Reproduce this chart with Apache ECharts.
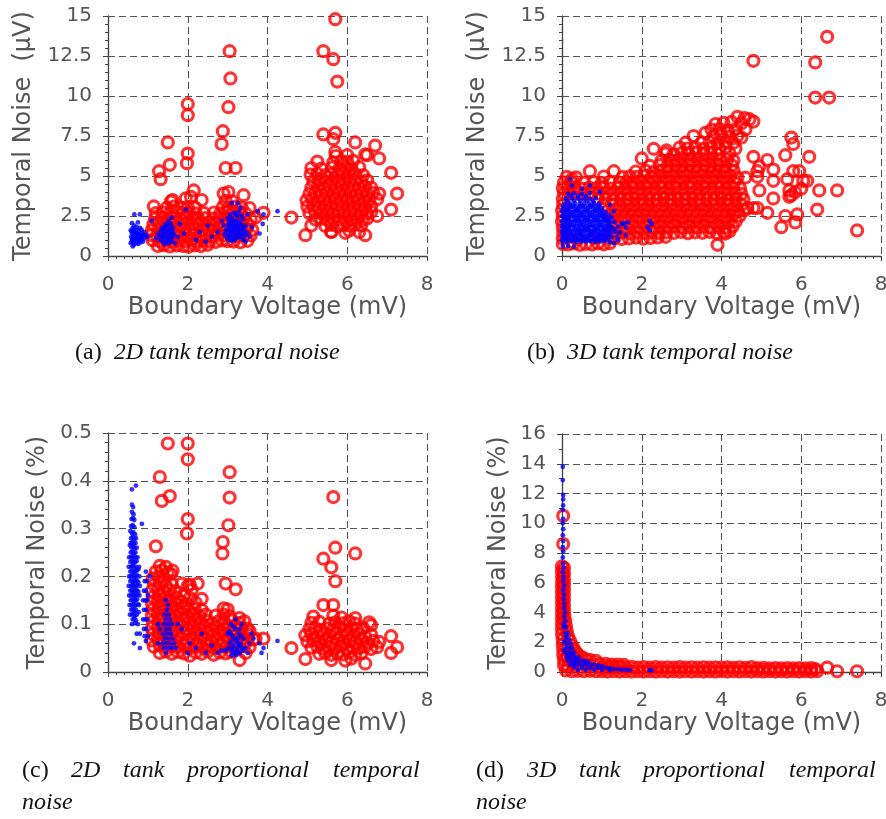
<!DOCTYPE html>
<html>
<head>
<meta charset="utf-8">
<script src="https://cdn.jsdelivr.net/npm/echarts@6/dist/echarts.min.js"></script>
<style>
html,body{margin:0;padding:0;background:#fff;}
#chart{width:886px;height:819px;}
</style>
</head>
<body>
<div id="chart"></div>
<script>
// ---------- axis definitions (min, max, interval) ----------
var xRange = [0, 8, 2];
var yRangeUV = [0, 15, 2.5];
var yRangeA = [0, 0.5, 0.1];
var yRangeD = [0, 16, 2];

var xName = 'Boundary Voltage (mV)';
var yNameUV = 'Temporal Noise  (\u03bcV)';
var yNamePct = 'Temporal Noise (%)';

// ---------- (a) 2D tank temporal noise ----------
var aRed = [
[5.7,14.8],[5.4,12.8],[5.65,12.3],[5.75,10.9],[3.05,12.8],[3.07,11.1],[3.02,9.3],[2.0,9.5],[2.0,8.8],[2.0,6.4],[1.98,5.8],
[2.88,7.8],[2.85,7.0],[2.95,5.5],[3.2,5.5],[1.5,7.1],[1.28,5.3],[1.32,4.8],[1.55,5.7],[5.4,7.6],[5.7,7.7],[5.65,7.3],
[6.2,7.1],[6.7,6.9],[6.8,6.1],[6.5,6.3],[5.7,6.5],[7.1,5.2],[7.25,3.9],[7.1,2.9],[6.75,2.5],[6.45,1.3],[4.95,1.3],
[4.6,2.4],[5.1,1.9],[5.6,1.5],[3.9,2.7],[3.7,2.4],[2.15,4.1],[2.35,3.5],
[1.25,0.62],[1.4,0.68],[1.55,0.6],[1.72,0.66],[1.88,0.63],[2.02,0.58],[2.18,0.67],[2.33,0.62],[2.5,0.7],
[1.12,0.98],[1.3,0.92],[1.45,0.97],[1.6,0.9],[1.76,0.96],[1.92,0.93],[2.08,0.99],[2.22,0.91],[2.38,0.95],[2.55,0.92],[2.7,0.88],[2.86,0.97],[3.0,0.93],[3.15,0.9],[3.32,0.86],[3.5,0.95],
[1.08,1.3],[1.22,1.26],[1.38,1.33],[1.52,1.28],[1.68,1.32],[1.83,1.25],[1.98,1.3],[2.14,1.35],[2.3,1.27],[2.46,1.31],[2.6,1.25],[2.76,1.33],[2.92,1.28],[3.08,1.3],[3.25,1.24],[3.42,1.32],[3.58,1.28],
[1.1,1.62],[1.26,1.68],[1.42,1.63],[1.57,1.66],[1.73,1.6],[1.9,1.67],[2.05,1.64],[2.2,1.69],[2.36,1.61],[2.52,1.66],[2.68,1.63],[2.83,1.68],[2.98,1.62],[3.14,1.66],[3.3,1.6],[3.47,1.67],[3.62,1.63],
[1.14,1.98],[1.3,2.03],[1.46,1.97],[1.62,2.02],[1.78,1.96],[1.94,2.04],[2.1,1.99],[2.26,2.02],[2.42,1.95],[2.58,2.0],[2.74,2.04],[2.9,1.97],[3.05,2.02],[3.2,1.98],[3.36,2.03],[3.52,1.96],
[1.18,2.33],[1.35,2.38],[1.5,2.31],[1.66,2.36],[1.82,2.32],[1.97,2.39],[2.12,2.34],[2.28,2.3],[2.45,2.37],[2.62,2.33],[2.78,2.38],[2.93,2.31],[3.1,2.36],[3.26,2.34],[3.42,2.39],[3.58,2.3],
[1.2,2.68],[1.38,2.72],[1.55,2.66],[1.72,2.74],[1.88,2.69],[2.03,2.73],[2.2,2.67],[2.4,2.7],[2.66,2.72],[2.82,2.67],[2.98,2.74],[3.14,2.69],[3.3,2.73],[3.45,2.66],
[1.15,3.1],[1.48,3.03],[1.65,3.08],[1.84,3.02],[2.0,3.07],[2.18,3.04],[2.88,3.06],[3.02,3.02],[3.2,3.08],[3.35,3.03],[3.55,3.0],
[1.58,3.42],[1.95,3.6],[2.08,3.7],[2.9,3.9],[3.02,4.0],[3.4,3.8],[2.95,3.45],[3.12,3.42],[1.62,3.5],
[5.6,1.52],[5.95,1.45],[6.05,1.6],[6.3,1.5],
[5.45,1.88],[5.6,1.95],[5.75,1.86],[5.9,1.93],[6.05,1.89],[6.2,1.96],[6.35,1.9],
[5.2,2.28],[5.35,2.33],[5.5,2.26],[5.65,2.31],[5.8,2.27],[5.95,2.34],[6.1,2.29],[6.25,2.32],[6.4,2.26],[6.5,2.35],
[5.05,2.68],[5.2,2.73],[5.35,2.66],[5.5,2.71],[5.64,2.67],[5.78,2.74],[5.92,2.69],[6.06,2.72],[6.2,2.66],[6.35,2.73],[6.5,2.68],[6.6,2.75],
[5.0,3.08],[5.15,3.13],[5.3,3.06],[5.45,3.11],[5.6,3.07],[5.74,3.14],[5.88,3.09],[6.02,3.12],[6.16,3.06],[6.3,3.13],[6.45,3.08],[6.6,3.11],
[4.98,3.48],[5.12,3.53],[5.27,3.46],[5.42,3.51],[5.56,3.47],[5.7,3.54],[5.85,3.49],[6.0,3.52],[6.14,3.46],[6.28,3.53],[6.42,3.48],[6.56,3.51],[6.75,3.55],
[5.05,3.88],[5.2,3.93],[5.35,3.86],[5.5,3.91],[5.65,3.87],[5.8,3.94],[5.94,3.89],[6.08,3.92],[6.22,3.86],[6.36,3.93],[6.5,3.88],[6.65,3.95],[6.8,3.9],
[5.1,4.28],[5.26,4.33],[5.42,4.26],[5.57,4.31],[5.72,4.27],[5.87,4.34],[6.02,4.29],[6.16,4.32],[6.3,4.26],[6.44,4.33],[6.6,4.28],
[5.15,4.68],[5.3,4.73],[5.46,4.66],[5.62,4.71],[5.78,4.67],[5.92,4.74],[6.06,4.69],[6.2,4.72],[6.35,4.66],[6.5,4.73],
[5.08,5.08],[5.25,5.13],[5.45,5.06],[5.6,5.11],[5.76,5.07],[5.9,5.14],[6.04,5.09],[6.2,5.12],[6.4,5.06],
[5.1,5.5],[5.35,5.46],[5.62,5.53],[5.8,5.47],[5.96,5.52],[6.1,5.48],[6.3,5.55],
[5.25,5.9],[5.65,5.86],[5.85,5.93],[6.0,5.88],[6.15,5.95],
[5.72,6.25],[6.0,6.3],[6.45,6.35]
];
var aBlue = [
[0.57,0.8],[0.6,1.0],[0.58,1.2],[0.6,1.4],[0.57,1.6],[0.62,1.75],[0.65,0.7],[0.65,0.9],[0.66,1.1],[0.64,1.3],[0.67,1.5],[0.65,1.7],[0.66,1.9],
[0.7,0.8],[0.72,1.0],[0.71,1.2],[0.73,1.4],[0.7,1.6],[0.72,1.8],[0.76,0.75],[0.78,0.95],[0.77,1.15],[0.79,1.35],[0.77,1.55],[0.8,1.75],
[0.82,0.85],[0.84,1.05],[0.83,1.25],[0.85,1.45],[0.84,1.65],[0.88,0.9],[0.9,1.1],[0.89,1.3],[0.9,1.5],[0.6,2.05],[0.66,2.6],[0.8,2.6],
[0.75,2.1],[0.95,1.3],[1.0,1.2],[0.62,0.6],[0.6,0.9],[0.62,1.1],[0.6,1.55],[0.68,1.25],[0.74,1.05],[0.75,1.3],[0.8,1.1],[0.86,1.2],[0.7,1.4],
[1.32,1.0],[1.35,1.3],[1.33,1.6],[1.38,0.85],[1.4,1.15],[1.42,1.45],[1.4,1.75],[1.45,2.0],[1.45,0.95],[1.47,1.25],[1.48,1.55],[1.5,1.85],
[1.52,2.2],[1.53,1.05],[1.55,1.35],[1.56,1.65],[1.58,1.95],[1.6,0.9],[1.62,1.2],[1.63,1.5],[1.6,2.4],[1.66,1.3],[1.68,0.8],[1.25,1.4],
[1.2,1.1],[1.1,2.2],[1.8,2.0],[1.9,1.4],[1.75,1.2],[1.95,2.9],[2.3,1.5],[2.5,1.9],[2.2,1.0],[1.5,1.1],[1.44,1.6],[1.57,1.5],
[1.36,1.15],[1.38,1.45],[1.43,0.75],[1.5,1.4],[1.52,0.8],[1.58,1.1],[1.62,1.75],[1.44,1.85],[1.36,1.75],[1.56,2.05],[1.3,1.2],
[3.0,1.3],[3.02,1.7],[3.04,2.1],[3.05,1.0],[3.08,1.5],[3.1,1.9],[3.1,2.4],[3.12,1.2],[3.14,1.65],[3.15,2.2],[3.17,2.7],[3.18,1.0],
[3.2,1.4],[3.22,1.85],[3.24,2.5],[3.26,1.15],[3.28,1.6],[3.3,2.0],[3.32,3.0],[3.33,1.3],[3.35,1.75],[3.38,2.3],[3.4,1.0],[3.42,1.5],
[3.1,3.3],[3.25,3.3],[3.45,0.9],[2.9,1.9],[2.85,2.2],[2.75,1.5],[3.5,2.6],[3.6,1.8],[3.55,1.2],[3.75,2.8],[3.9,2.6],[3.88,2.0],
[3.8,1.4],[4.25,2.8],[2.6,1.2],[2.45,0.9],[3.15,1.8],[3.25,1.9],[3.2,2.2],[3.1,1.6],[3.3,1.45],[3.05,1.75],
[2.98,1.1],[3.0,1.55],[3.02,1.95],[3.06,1.25],[3.08,2.25],[3.12,1.45],[3.16,1.05],[3.18,1.6],[3.2,2.0],[3.24,1.35],[3.26,1.75],
[3.28,2.2],[3.3,1.2],[3.32,1.55],[3.36,1.95],[3.38,1.1],[3.4,1.7],[3.44,1.3],[3.2,2.6],[3.28,2.75],[3.12,2.05],[3.0,2.35],[2.95,1.6],
[3.45,1.9],[3.5,1.45],[3.35,2.5],[3.22,1.2],[3.1,0.95],[2.92,1.35],[3.06,2.6],[3.36,1.4]
];

// ---------- (b) 3D tank temporal noise ----------
var bRed = [
[6.65,13.7],[4.8,12.2],[6.35,12.1],[6.35,9.9],[6.7,9.9],
[5.75,7.4],[5.8,7.0],[6.2,6.2],[5.6,6.3],[4.8,6.2],[4.95,5.6],[4.9,5.3],[5.15,6.0],[5.3,5.4],[5.3,4.7],[5.65,4.8],[5.8,5.3],
[5.95,5.3],[6.05,4.7],[6.15,4.7],[5.7,4.1],[5.85,4.0],[6.0,4.2],[6.45,4.1],[6.9,4.1],[4.95,4.1],[5.3,3.6],[5.7,3.7],[5.75,3.8],
[5.15,2.7],[4.9,3.0],[5.6,2.5],[5.85,2.1],[5.9,2.6],[6.4,2.9],[5.5,1.8],[7.4,1.6],[3.9,0.7],[4.1,1.4],[4.65,3.0],[4.8,3.0],[4.6,4.9],
[0.02,0.75],[0.15,0.72],[0.3,0.78],[0.45,0.7],[0.6,0.76],[0.75,0.72],[0.9,0.79],[1.05,0.73],[1.2,0.8],
[0.02,1.1],[0.4,1.05],[0.8,1.12],[1.15,1.08],[1.32,1.13],[1.5,1.06],[1.68,1.1],[1.86,1.15],[2.04,1.08],[2.22,1.12],[2.4,1.16],[2.6,1.2],
[0.03,1.45],[0.6,1.42],[1.2,1.47],[1.38,1.43],[1.55,1.48],[1.72,1.41],[1.9,1.46],[2.08,1.43],[2.26,1.49],[2.44,1.42],[2.62,1.47],[2.8,1.44],[2.98,1.5],[3.16,1.43],[3.34,1.48],[3.52,1.45],[3.7,1.5],[3.88,1.43],[4.06,1.48],[4.2,1.55],
[0.02,1.8],[1.25,1.78],[1.42,1.83],[1.6,1.76],[1.78,1.82],[1.95,1.79],[2.13,1.84],[2.3,1.77],[2.48,1.81],[2.66,1.78],[2.84,1.83],[3.02,1.76],[3.2,1.82],[3.38,1.79],[3.56,1.84],[3.74,1.77],[3.92,1.81],[4.1,1.78],[4.28,1.85],
[0.0,2.15],[1.3,2.13],[1.48,2.18],[1.66,2.11],[1.84,2.17],[2.02,2.14],[2.2,2.19],[2.38,2.12],[2.56,2.16],[2.74,2.13],[2.92,2.18],[3.1,2.11],[3.28,2.17],[3.46,2.14],[3.64,2.19],[3.82,2.12],[4.0,2.16],[4.18,2.13],[4.36,2.18],
[0.02,2.5],[1.22,2.48],[1.4,2.53],[1.58,2.46],[1.76,2.52],[1.94,2.49],[2.12,2.54],[2.3,2.47],[2.48,2.51],[2.66,2.48],[2.84,2.53],[3.02,2.46],[3.2,2.52],[3.38,2.49],[3.56,2.54],[3.74,2.47],[3.92,2.51],[4.1,2.48],[4.28,2.53],[4.45,2.5],
[0.0,2.85],[1.15,2.83],[1.34,2.88],[1.52,2.81],[1.7,2.87],[1.88,2.84],[2.06,2.89],[2.24,2.82],[2.42,2.86],[2.6,2.83],[2.78,2.88],[2.96,2.81],[3.14,2.87],[3.32,2.84],[3.5,2.89],[3.68,2.82],[3.86,2.86],[4.04,2.83],[4.22,2.88],[4.4,2.81],[4.58,2.86],
[0.03,3.2],[1.05,3.18],[1.25,3.23],[1.44,3.16],[1.62,3.22],[1.8,3.19],[1.98,3.24],[2.16,3.17],[2.34,3.21],[2.52,3.18],[2.7,3.23],[2.88,3.16],[3.06,3.22],[3.24,3.19],[3.42,3.24],[3.6,3.17],[3.78,3.21],[3.96,3.18],[4.14,3.23],[4.32,3.16],[4.5,3.21],
[0.02,3.55],[0.9,3.53],[1.1,3.58],[1.3,3.51],[1.48,3.57],[1.66,3.54],[1.84,3.59],[2.02,3.52],[2.2,3.56],[2.38,3.53],[2.56,3.58],[2.74,3.51],[2.92,3.57],[3.1,3.54],[3.28,3.59],[3.46,3.52],[3.64,3.56],[3.82,3.53],[4.0,3.58],[4.18,3.51],[4.36,3.57],[4.55,3.54],
[0.05,3.9],[0.2,3.88],[0.38,3.93],[0.56,3.86],[0.74,3.92],[0.92,3.89],[1.1,3.94],[1.28,3.87],[1.46,3.91],[1.64,3.88],[1.82,3.93],[2.0,3.86],[2.18,3.92],[2.36,3.89],[2.54,3.94],[2.72,3.87],[2.9,3.91],[3.08,3.88],[3.26,3.93],[3.44,3.86],[3.62,3.92],[3.8,3.89],[3.98,3.94],[4.16,3.87],[4.34,3.91],[4.5,3.88],
[0.02,4.25],[0.15,4.23],[0.32,4.28],[0.5,4.21],[0.68,4.27],[0.86,4.24],[1.04,4.29],[1.22,4.22],[1.4,4.26],[1.58,4.23],[1.76,4.28],[1.94,4.21],[2.12,4.27],[2.3,4.24],[2.48,4.29],[2.66,4.22],[2.84,4.26],[3.02,4.23],[3.2,4.28],[3.38,4.21],[3.56,4.27],[3.74,4.24],[3.92,4.29],[4.1,4.22],[4.28,4.26],[4.46,4.23],
[0.05,4.6],[0.22,4.63],[0.55,4.58],[0.8,4.62],[1.0,4.57],[1.2,4.64],[1.45,4.59],[1.62,4.62],[1.8,4.56],[1.98,4.63],[2.16,4.6],[2.34,4.65],[2.52,4.58],[2.7,4.62],[2.88,4.59],[3.06,4.64],[3.24,4.57],[3.42,4.63],[3.6,4.6],[3.78,4.65],[3.96,4.58],[4.14,4.62],[4.32,4.59],
[0.12,4.95],[0.35,4.92],[0.7,5.3],[1.05,4.97],[1.3,5.3],[1.52,4.93],[1.7,4.98],[1.88,4.94],[2.06,4.99],[2.24,4.92],[2.42,4.96],[2.6,4.93],[2.78,4.98],[2.96,4.91],[3.14,4.97],[3.32,4.94],[3.5,4.99],[3.68,4.92],[3.86,4.96],[4.04,4.93],[4.22,4.98],[4.4,4.91],[4.9,4.95],
[0.25,4.8],[1.85,5.28],[2.1,5.33],[2.3,5.26],[2.5,5.32],[2.68,5.29],[2.86,5.34],[3.04,5.27],[3.22,5.31],[3.4,5.28],[3.58,5.33],[3.76,5.26],[3.94,5.32],[4.1,5.29],[4.3,5.34],
[2.2,5.63],[2.45,5.68],[2.64,5.61],[2.82,5.67],[3.0,5.64],[3.18,5.69],[3.36,5.62],[3.54,5.66],[3.72,5.63],[3.9,5.68],[4.08,5.61],[4.26,5.67],
[2.0,6.1],[2.5,5.98],[2.7,6.03],[2.88,5.96],[3.06,6.02],[3.24,5.99],[3.42,6.04],[3.6,5.97],[3.78,6.01],[3.96,5.98],[4.14,6.03],[4.3,5.96],
[2.3,6.7],[2.6,6.42],[2.8,6.36],[3.0,6.43],[3.18,6.38],[3.36,6.44],[3.55,6.37],[3.72,6.41],[3.9,6.38],[4.2,6.43],
[2.62,6.6],[2.95,6.78],[3.15,6.72],[3.35,6.77],[3.55,6.7],[3.75,6.76],[3.95,6.73],[4.1,6.78],[4.35,6.71],
[3.1,7.08],[3.3,7.5],[3.5,7.1],[3.7,7.13],[3.9,7.06],[4.1,7.11],[4.3,7.08],[4.5,7.4],
[3.6,7.7],[3.8,7.48],[4.0,7.53],[4.2,7.46],[4.4,7.52],[4.6,7.9],
[3.75,7.9],[3.95,7.93],[4.15,7.86],[4.35,7.92],
[3.85,8.25],[4.05,8.32],[4.25,8.38],[4.5,8.3],[4.8,8.4],
[4.4,8.7],[4.58,8.62],[4.7,8.55]
];
var bBlue = [
[0.02,0.6],[0.15,0.62],[0.3,0.58],
[0.02,0.9],[0.12,0.88],[0.24,0.92],[0.36,0.87],[0.48,0.91],[0.6,0.89],[0.72,0.93],[0.84,0.88],[0.96,0.9],[1.08,0.94],[1.2,0.89],
[0.04,1.2],[0.16,1.18],[0.28,1.22],[0.4,1.17],[0.52,1.21],[0.64,1.19],[0.76,1.23],[0.88,1.18],[1.0,1.2],[1.12,1.24],[1.24,1.19],[1.38,1.22],
[0.02,1.5],[0.14,1.48],[0.26,1.52],[0.38,1.47],[0.5,1.51],[0.62,1.49],[0.74,1.53],[0.86,1.48],[0.98,1.5],[1.1,1.54],[1.22,1.49],[1.34,1.52],[1.45,1.47],
[0.05,1.8],[0.17,1.78],[0.29,1.82],[0.41,1.77],[0.53,1.81],[0.65,1.79],[0.77,1.83],[0.89,1.78],[1.01,1.8],[1.13,1.84],[1.25,1.79],[1.4,1.82],[1.6,1.78],
[0.02,2.1],[0.14,2.08],[0.26,2.12],[0.38,2.07],[0.5,2.11],[0.62,2.09],[0.74,2.13],[0.86,2.08],[0.98,2.1],[1.1,2.14],[1.22,2.09],[1.32,2.12],[1.55,2.05],
[0.05,2.4],[0.17,2.38],[0.29,2.42],[0.41,2.37],[0.53,2.41],[0.65,2.39],[0.77,2.43],[0.89,2.38],[1.01,2.4],[1.13,2.44],[1.25,2.39],
[0.03,2.7],[0.15,2.68],[0.27,2.72],[0.39,2.67],[0.51,2.71],[0.63,2.69],[0.75,2.73],[0.87,2.68],[0.99,2.7],[1.1,2.74],
[0.05,3.0],[0.17,2.98],[0.29,3.02],[0.41,2.97],[0.53,3.01],[0.65,2.99],[0.77,3.03],[0.89,2.98],[1.0,3.0],[1.2,3.2],
[0.08,3.3],[0.2,3.28],[0.32,3.32],[0.44,3.27],[0.56,3.31],[0.68,3.29],[0.8,3.33],[0.92,3.28],[1.3,2.8],
[0.1,3.6],[0.25,3.62],[0.4,3.58],[0.55,3.61],[0.7,3.57],[0.85,3.63],
[0.15,3.9],[0.3,3.92],[0.5,3.88],[0.7,3.95],[0.95,4.0],
[0.25,4.4],[0.5,4.2],[0.7,4.4],[0.2,4.8],
[0.08,1.05],[0.2,1.35],[0.32,1.05],[0.44,1.35],[0.56,1.05],[0.68,1.35],[0.8,1.05],[0.92,1.35],[1.04,1.05],[1.16,1.35],
[0.08,1.65],[0.2,1.95],[0.32,1.65],[0.44,1.95],[0.56,1.65],[0.68,1.95],[0.8,1.65],[0.92,1.95],[1.04,1.65],[1.16,1.95],[1.3,1.65],
[0.08,2.25],[0.2,2.55],[0.32,2.25],[0.44,2.55],[0.56,2.25],[0.68,2.55],[0.8,2.25],[0.92,2.55],[1.04,2.25],[1.18,2.55],
[0.1,2.85],[0.22,3.15],[0.34,2.85],[0.46,3.15],[0.58,2.85],[0.7,3.15],[0.82,2.85],[0.94,3.15],
[0.06,1.35],[0.18,1.05],[0.3,1.35],[0.42,1.05],[0.54,1.35],[0.66,1.05],[0.78,1.35],[0.9,1.05],[1.02,1.35],[1.14,1.05],
[0.06,1.95],[0.18,1.65],[0.3,1.95],[0.42,1.65],[0.54,1.95],[0.66,1.65],[0.78,1.95],[0.9,1.65],[1.02,1.95],[1.16,1.65],
[0.06,2.55],[0.18,2.25],[0.3,2.55],[0.42,2.25],[0.54,2.55],[0.66,2.25],[0.78,2.55],[0.9,2.25],[1.02,2.55],[1.16,2.25],
[0.16,2.85],[0.28,3.15],[0.4,2.85],[0.52,3.15],[0.64,2.85],[0.76,3.15],[0.88,2.85],[1.0,2.85],
[0.14,3.45],[0.3,3.45],[0.46,3.45],[0.62,3.45],[0.78,3.45],[0.22,3.75],[0.4,3.75],[0.6,3.75],
[0.0,0.98],[0.11,1.0],[0.23,0.97],[0.35,1.0],[0.47,0.98],[0.59,1.01],[0.71,0.97],[0.83,1.0],[0.95,0.98],[1.07,1.01],
[0.0,1.28],[0.11,1.27],[0.23,1.3],[0.35,1.27],[0.47,1.29],[0.59,1.26],[0.71,1.3],[0.83,1.27],[0.95,1.29],[1.07,1.28],[1.2,1.3],
[0.0,1.58],[0.11,1.6],[0.23,1.57],[0.35,1.6],[0.47,1.58],[0.59,1.61],[0.71,1.57],[0.83,1.6],[0.95,1.58],[1.07,1.61],[1.2,1.58],
[0.0,1.88],[0.11,1.87],[0.23,1.9],[0.35,1.87],[0.47,1.89],[0.59,1.86],[0.71,1.9],[0.83,1.87],[0.95,1.89],[1.07,1.88],[1.2,1.9],
[0.0,2.18],[0.11,2.2],[0.23,2.17],[0.35,2.2],[0.47,2.18],[0.59,2.21],[0.71,2.17],[0.83,2.2],[0.95,2.18],[1.07,2.21],[1.18,2.18],
[0.0,2.48],[0.11,2.47],[0.23,2.5],[0.35,2.47],[0.47,2.49],[0.59,2.46],[0.71,2.5],[0.83,2.47],[0.95,2.49],[1.07,2.48],
[0.0,2.78],[0.11,2.8],[0.23,2.77],[0.35,2.8],[0.47,2.78],[0.59,2.81],[0.71,2.77],[0.83,2.8],[0.95,2.78],
[0.02,3.08],[0.11,3.1],[0.23,3.07],[0.35,3.1],[0.47,3.08],[0.59,3.11],[0.71,3.07],[0.83,3.1],
[1.5,2.0],[1.65,2.1],[2.15,1.8],[2.2,2.2],[2.25,2.0],[2.2,1.6],[1.4,1.0],[1.3,0.8],[1.6,1.3]
];

// ---------- (c) 2D tank proportional temporal noise ----------
var cRed = [
[1.5,0.478],[2.0,0.478],[2.0,0.445],[1.3,0.408],[1.35,0.358],[1.55,0.368],[3.05,0.418],[3.05,0.365],[2.0,0.32],[1.98,0.29],
[3.02,0.307],[2.88,0.272],[2.87,0.248],[1.2,0.263],[2.95,0.185],[3.2,0.173],[2.25,0.185],[2.0,0.18],[1.85,0.185],[2.35,0.153],
[5.65,0.366],[5.7,0.26],[6.2,0.248],[5.4,0.237],[5.6,0.219],[5.7,0.19],[5.4,0.14],[5.65,0.14],[4.6,0.05],[4.95,0.027],
[7.1,0.075],[7.25,0.052],[7.1,0.04],[6.45,0.018],[3.9,0.07],[3.7,0.07],[3.55,0.085],[3.3,0.025],
[1.3,0.04],[1.45,0.043],[1.6,0.038],[1.75,0.042],[1.9,0.039],[2.05,0.034],[2.2,0.041],[2.35,0.038],[2.5,0.043],[2.65,0.036],[2.8,0.041],[2.95,0.039],[3.1,0.042],[3.45,0.04],
[1.15,0.053],[1.3,0.056],[1.45,0.051],[1.6,0.055],[1.75,0.052],[1.9,0.056],[2.05,0.05],[2.2,0.054],[2.35,0.052],[2.5,0.056],[2.65,0.051],[2.8,0.055],[2.95,0.052],[3.1,0.056],[3.25,0.05],[3.4,0.054],[3.55,0.052],
[1.1,0.066],[1.25,0.068],[1.4,0.064],[1.55,0.067],[1.7,0.065],[1.85,0.069],[2.0,0.064],[2.15,0.067],[2.3,0.065],[2.45,0.068],[2.6,0.063],[2.75,0.067],[2.9,0.065],[3.05,0.069],[3.2,0.064],[3.35,0.067],[3.5,0.065],[3.65,0.068],
[1.12,0.079],[1.27,0.081],[1.42,0.077],[1.57,0.08],[1.72,0.078],[1.87,0.082],[2.02,0.077],[2.17,0.08],[2.32,0.078],[2.47,0.081],[2.62,0.076],[2.77,0.08],[2.92,0.078],[3.07,0.082],[3.22,0.077],[3.37,0.08],[3.52,0.078],
[1.1,0.092],[1.25,0.094],[1.4,0.09],[1.55,0.093],[1.7,0.091],[1.85,0.095],[2.0,0.09],[2.15,0.093],[2.3,0.091],[2.45,0.094],[2.6,0.089],[2.75,0.093],[2.9,0.091],[3.05,0.095],[3.2,0.09],[3.35,0.093],[3.5,0.091],
[1.12,0.105],[1.27,0.107],[1.42,0.103],[1.57,0.106],[1.72,0.104],[1.87,0.108],[2.02,0.103],[2.17,0.106],[2.32,0.104],[2.47,0.107],[2.62,0.102],[2.77,0.106],[2.92,0.104],[3.1,0.108],[3.28,0.103],[3.42,0.106],
[1.1,0.118],[1.25,0.12],[1.4,0.116],[1.55,0.119],[1.7,0.117],[1.85,0.121],[2.0,0.116],[2.15,0.119],[2.3,0.117],[2.45,0.12],[2.7,0.118],[2.9,0.12],[3.05,0.117],[3.3,0.113],
[1.12,0.131],[1.27,0.133],[1.42,0.129],[1.57,0.132],[1.72,0.13],[1.87,0.134],[2.02,0.129],[2.17,0.132],[2.35,0.13],[2.9,0.133],[3.0,0.131],
[1.1,0.144],[1.25,0.146],[1.4,0.142],[1.55,0.145],[1.7,0.143],[1.85,0.147],[2.0,0.142],[2.2,0.145],
[1.12,0.157],[1.27,0.159],[1.42,0.155],[1.57,0.158],[1.72,0.156],[1.9,0.16],[2.05,0.155],
[1.1,0.17],[1.25,0.172],[1.4,0.168],[1.55,0.171],[1.7,0.169],[2.1,0.172],
[1.15,0.183],[1.3,0.185],[1.45,0.181],[1.6,0.184],[2.05,0.183],
[1.12,0.196],[1.27,0.198],[1.42,0.194],[1.58,0.205],
[1.2,0.21],[1.35,0.212],[1.5,0.208],[1.62,0.212],
[1.3,0.222],[1.45,0.22],
[5.6,0.025],[5.95,0.024],[6.1,0.028],
[5.3,0.038],[5.45,0.04],[5.6,0.036],[5.75,0.039],[5.9,0.037],[6.05,0.041],[6.2,0.036],[6.35,0.039],
[5.1,0.051],[5.25,0.053],[5.4,0.049],[5.55,0.052],[5.7,0.05],[5.85,0.054],[6.0,0.049],[6.15,0.052],[6.3,0.05],[6.45,0.053],[6.6,0.048],[6.75,0.052],
[5.0,0.064],[5.15,0.066],[5.3,0.062],[5.45,0.065],[5.6,0.063],[5.75,0.067],[5.9,0.062],[6.05,0.065],[6.2,0.063],[6.35,0.066],[6.5,0.061],[6.65,0.065],[6.8,0.063],
[4.95,0.077],[5.1,0.079],[5.25,0.075],[5.4,0.078],[5.55,0.076],[5.7,0.08],[5.85,0.075],[6.0,0.078],[6.15,0.076],[6.3,0.079],[6.45,0.074],[6.6,0.078],
[5.05,0.09],[5.2,0.092],[5.35,0.088],[5.5,0.091],[5.65,0.089],[5.8,0.093],[5.95,0.088],[6.1,0.091],[6.25,0.089],[6.4,0.092],[6.6,0.098],
[5.1,0.103],[5.3,0.105],[5.55,0.101],[5.7,0.104],[5.9,0.102],[6.05,0.106],[6.2,0.101],[6.55,0.104],
[5.15,0.116],[5.65,0.118],[5.85,0.114],[6.2,0.113]
];
var cBlue = [
[0.6,0.382],[0.7,0.39],[0.6,0.35],[0.63,0.345],[0.6,0.335],[0.64,0.33],[0.59,0.32],[0.63,0.322],[0.66,0.318],
[0.58,0.305],[0.62,0.307],[0.66,0.303],[0.6,0.29],[0.64,0.292],[0.68,0.288],[0.58,0.28],[0.62,0.282],[0.66,0.278],
[0.57,0.27],[0.61,0.272],[0.65,0.268],[0.69,0.27],[0.59,0.26],[0.63,0.262],[0.67,0.258],[0.57,0.25],[0.61,0.252],[0.65,0.248],[0.69,0.25],
[0.58,0.24],[0.62,0.242],[0.66,0.238],[0.7,0.24],[0.56,0.23],[0.6,0.232],[0.64,0.228],[0.68,0.23],[0.72,0.232],
[0.58,0.22],[0.62,0.222],[0.66,0.218],[0.7,0.22],[0.56,0.21],[0.6,0.212],[0.64,0.208],[0.68,0.21],[0.72,0.212],
[0.57,0.2],[0.61,0.202],[0.65,0.198],[0.69,0.2],[0.73,0.202],[0.56,0.19],[0.6,0.192],[0.64,0.188],[0.68,0.19],[0.72,0.192],[0.76,0.188],
[0.58,0.18],[0.62,0.182],[0.66,0.178],[0.7,0.18],[0.74,0.182],[0.56,0.17],[0.6,0.172],[0.64,0.168],[0.68,0.17],[0.72,0.172],[0.76,0.168],
[0.58,0.16],[0.62,0.162],[0.66,0.158],[0.7,0.16],[0.74,0.162],[0.57,0.15],[0.61,0.152],[0.65,0.148],[0.69,0.15],[0.73,0.152],
[0.59,0.14],[0.63,0.142],[0.67,0.138],[0.71,0.14],[0.75,0.142],[0.58,0.13],[0.62,0.132],[0.66,0.128],[0.7,0.13],
[0.6,0.12],[0.64,0.122],[0.68,0.118],[0.72,0.12],[0.62,0.11],[0.66,0.112],[0.7,0.108],[0.6,0.1],[0.68,0.102],[0.75,0.1],
[0.53,0.24],[0.52,0.22],[0.53,0.2],[0.52,0.18],[0.53,0.16],[0.54,0.14],[0.78,0.22],[0.79,0.2],[0.8,0.18],[0.79,0.16],[0.78,0.14],
[0.56,0.295],[0.55,0.265],[0.7,0.28],[0.72,0.26],[0.74,0.24],[0.76,0.215],[0.55,0.12],[0.77,0.125],
[0.72,0.08],[0.8,0.08],[0.65,0.06],[0.8,0.05],[0.95,0.065],[0.85,0.31],
[0.95,0.21],[0.92,0.19],[0.97,0.19],[0.9,0.17],[0.95,0.17],[0.88,0.15],[0.93,0.15],[0.98,0.15],[0.9,0.13],[0.95,0.13],
[0.88,0.11],[0.93,0.11],[0.98,0.11],[0.9,0.09],[0.96,0.09],[0.92,0.075],[1.0,0.075],
[1.45,0.15],[1.5,0.14],[1.48,0.13],[1.42,0.12],[1.52,0.12],[1.45,0.11],[1.55,0.11],[1.4,0.1],[1.5,0.1],[1.6,0.1],[1.45,0.09],[1.55,0.09],
[1.38,0.08],[1.48,0.08],[1.58,0.08],[1.42,0.07],[1.52,0.07],[1.62,0.07],[1.36,0.06],[1.46,0.06],[1.56,0.06],[1.66,0.06],[1.4,0.05],
[1.5,0.05],[1.6,0.05],[1.45,0.04],[1.7,0.05],[1.3,0.09],[1.25,0.1],
[1.75,0.1],[1.85,0.09],[2.0,0.04],[2.05,0.06],[2.35,0.08],[2.2,0.05],[2.45,0.04],[2.6,0.055],[2.75,0.04],[2.85,0.045],[1.25,0.06],[1.0,0.16],[1.05,0.2],
[3.0,0.08],[3.05,0.06],[3.08,0.1],[3.1,0.045],[3.12,0.075],[3.15,0.055],[3.18,0.09],[3.2,0.035],[3.22,0.065],[3.25,0.05],[3.28,0.08],
[3.3,0.04],[3.33,0.06],[3.35,0.1],[3.38,0.045],[3.4,0.07],[3.2,0.11],[3.1,0.035],[3.02,0.05],[3.15,0.04],[3.25,0.07],[3.3,0.055],
[3.45,0.05],[3.5,0.04],[3.55,0.06],[3.6,0.08],[3.65,0.07],[3.8,0.06],[3.9,0.05],[4.25,0.065],[3.85,0.04],[2.95,0.045],
[3.05,0.085],[3.1,0.065],[3.15,0.095],[3.18,0.07],[3.22,0.045],[3.26,0.06],[3.3,0.09],[3.34,0.075],[3.36,0.05],[3.12,0.05],[3.08,0.08],[3.27,0.04]
];

// ---------- (d) 3D tank proportional temporal noise ----------
var dRed = [
[0.03,10.5],[0.03,8.6],
[0.0,7.1],[0.05,7.0],[0.0,6.75],[0.05,6.6],[0.0,6.4],[0.05,6.25],[0.0,6.05],[0.05,5.9],[0.0,5.7],[0.05,5.55],[0.0,5.35],[0.05,5.2],
[0.0,5.0],[0.05,4.85],[0.0,4.65],[0.05,4.5],[0.0,4.3],[0.05,4.15],[0.0,3.95],[0.06,3.8],[0.0,3.6],[0.08,3.45],[0.0,3.25],[0.1,3.1],
[0.0,2.9],[0.12,2.75],[0.0,2.55],[0.15,2.4],[0.02,2.2],[0.2,2.1],[0.02,1.85],[0.25,1.8],[0.12,1.6],[0.3,1.55],[0.03,1.5],[0.2,1.3],[0.35,1.35],
[0.03,1.15],[0.12,1.05],[0.4,1.15],[0.3,1.0],[0.5,1.0],[0.05,0.8],[0.2,0.75],[0.4,0.8],[0.6,0.85],[0.7,0.8],[0.85,0.75],
[0.05,0.45],[0.15,0.4],[0.3,0.45],[0.5,0.5],[0.65,0.5],[0.8,0.5],[0.95,0.55],[1.1,0.55],[1.25,0.5],[1.4,0.5],[1.55,0.48],
[0.1,0.1],[0.25,0.05],[0.4,0.08],[0.55,0.05],[0.7,0.08],[0.85,0.05],
[1.0,0.3],[1.15,0.32],[1.3,0.3],[1.45,0.33],[1.6,0.3],[1.75,0.35],[1.9,0.3],[2.05,0.33],[2.2,0.3],[2.35,0.33],[2.5,0.3],[2.65,0.32],
[2.8,0.3],[2.95,0.33],[3.1,0.3],[3.25,0.32],[3.4,0.29],[3.55,0.32],[3.7,0.3],[3.85,0.32],[4.0,0.29],[4.15,0.31],[4.3,0.28],[4.45,0.31],
[4.6,0.28],[4.75,0.33],[4.9,0.26],[5.05,0.28],[5.2,0.25],[5.35,0.27],[5.5,0.24],[5.65,0.27],[5.8,0.25],[5.95,0.27],[6.1,0.24],[6.25,0.26],
[1.0,0.05],[1.15,0.03],[1.3,0.05],[1.45,0.03],[1.6,0.05],[1.75,0.03],[1.9,0.05],[2.05,0.03],[2.2,0.05],[2.35,0.03],[2.5,0.05],[2.65,0.03],
[2.8,0.05],[2.95,0.03],[3.1,0.05],[3.25,0.03],[3.4,0.05],[3.55,0.03],[3.7,0.05],[3.85,0.03],[4.0,0.05],[4.15,0.03],[4.3,0.05],[4.45,0.03],
[4.6,0.05],[4.75,0.03],[4.9,0.05],[5.05,0.03],[5.2,0.05],[5.35,0.03],[5.5,0.05],[5.65,0.03],[5.8,0.05],[5.95,0.03],[6.1,0.05],[6.25,0.03],
[6.35,0.2],[6.65,0.3],[6.9,0.05],[7.4,0.05],[6.4,0.05]
];
var dBlue = [
[0.02,13.8],[0.02,12.9],[0.03,11.9],[0.03,11.6],[0.03,11.2],[0.02,10.9],[0.03,10.3],[0.02,10.0],[0.03,9.6],[0.02,9.2],[0.03,8.8],
[0.02,8.4],[0.03,8.1],[0.02,7.7],[0.03,7.3],[0.04,7.0],[0.02,6.7],[0.04,6.4],[0.03,6.1],[0.05,5.8],[0.03,5.5],[0.05,5.2],[0.04,4.9],
[0.06,4.6],[0.05,4.3],[0.07,4.0],[0.06,3.7],[0.08,3.4],[0.04,3.2],
[0.05,3.0],[0.1,3.0],[0.08,2.6],[0.15,2.6],[0.1,2.2],[0.18,2.2],[0.05,2.0],[0.12,1.9],[0.22,1.9],[0.08,1.6],[0.16,1.6],[0.25,1.6],
[0.1,1.3],[0.2,1.3],[0.3,1.3],[0.12,1.0],[0.22,1.0],[0.32,1.0],[0.42,1.0],[0.15,0.75],[0.25,0.75],[0.35,0.75],[0.45,0.75],[0.55,0.75],
[0.65,0.7],[0.2,0.5],[0.3,0.5],[0.4,0.5],[0.5,0.5],[0.6,0.5],[0.7,0.5],[0.8,0.5],[0.9,0.45],[1.0,0.4],[0.3,0.3],[0.5,0.3],[0.7,0.3],
[0.9,0.3],[1.1,0.3],[1.2,0.25],[1.3,0.2],[1.4,0.2],[1.5,0.15],[1.6,0.15],[1.7,0.12],[2.2,0.12],[2.25,0.1],[0.4,0.15],[0.6,0.15],
[0.8,0.15],[1.0,0.15],[1.2,0.12],[0.35,0.9],[0.25,1.2],[0.1,2.4],[0.06,1.4],[0.15,1.1],[0.3,0.62],[0.55,0.6]
];

var chart = echarts.init(document.getElementById('chart'));
var FONT = 'DejaVu Sans';
var GRAY = '#555';

function xAxisCfg(gi) {
  return {
    type: 'value', gridIndex: gi, min: xRange[0], max: xRange[1], interval: xRange[2],
    name: xName, nameLocation: 'middle', nameGap: 38,
    nameTextStyle: {fontFamily: FONT, fontSize: 24, color: GRAY},
    axisLine: {show: true, onZero: false, lineStyle: {color: '#444', width: 1.3}},
    axisTick: {show: true, inside: false, length: 5, lineStyle: {color: '#444'}},
    minorTick: {show: true, splitNumber: 10, length: 3, lineStyle: {color: '#444'}},
    splitLine: {show: true, lineStyle: {color: '#555', type: [7, 4], width: 1.1}},
    axisLabel: {fontFamily: FONT, fontSize: 20, color: GRAY, margin: 19}
  };
}
function yAxisCfg(gi, rng, name, gap, minorSplit) {
  return {
    type: 'value', gridIndex: gi, min: rng[0], max: rng[1], interval: rng[2],
    name: name, nameLocation: 'middle', nameGap: gap, nameRotate: 90,
    nameTextStyle: {fontFamily: FONT, fontSize: 24, color: GRAY},
    axisLine: {show: true, onZero: false, lineStyle: {color: '#444', width: 1.3}},
    axisTick: {show: true, inside: false, length: 5, lineStyle: {color: '#444'}},
    minorTick: {show: true, splitNumber: minorSplit, length: 3, lineStyle: {color: '#444'}},
    splitLine: {show: true, lineStyle: {color: '#555', type: [7, 4], width: 1.1}},
    axisLabel: {fontFamily: FONT, fontSize: 20, color: GRAY, margin: 16}
  };
}
function redSeries(gi, data) {
  return {type: 'scatter', xAxisIndex: gi, yAxisIndex: gi, data: data, symbol: 'circle', symbolSize: 11,
    itemStyle: {color: 'rgba(0,0,0,0)', borderColor: '#ff0000', borderWidth: 3.2}, z: 2, silent: true};
}
function blueSeries(gi, data) {
  return {type: 'scatter', xAxisIndex: gi, yAxisIndex: gi, data: data, symbol: 'circle', symbolSize: 4.8,
    itemStyle: {color: '#0000ff'}, z: 3, silent: true};
}

var serif = 'Liberation Serif';
var CAP = 24;
function caption(x, y, label, rest) {
  return {type: 'text', left: x, top: y, silent: true,
    style: {text: '{n|' + label + '}  {i|' + rest + '}', fontFamily: serif, fontSize: CAP, rich: {
      n: {fontFamily: serif, fontSize: CAP, fontStyle: 'normal', fill: '#111'},
      i: {fontFamily: serif, fontSize: CAP, fontStyle: 'italic', fill: '#111'}
    }}};
}
function word(x, y, t, italic) {
  return {type: 'text', left: x, top: y, silent: true,
    style: {text: t, fontFamily: serif, fontSize: CAP, fontStyle: italic ? 'italic' : 'normal', fill: '#111'}};
}

var option = {
  animation: false,
  backgroundColor: '#fff',
  grid: [
    {left: 108, top: 16, width: 319, height: 240, outerBoundsMode: 'none'},
    {left: 562, top: 16, width: 319, height: 240, outerBoundsMode: 'none'},
    {left: 108, top: 433, width: 319, height: 239, outerBoundsMode: 'none'},
    {left: 562, top: 434, width: 319, height: 238, outerBoundsMode: 'none'}
  ],
  xAxis: [xAxisCfg(0), xAxisCfg(1), xAxisCfg(2), xAxisCfg(3)],
  yAxis: [
    yAxisCfg(0, yRangeUV, yNameUV, 72, 5),
    yAxisCfg(1, yRangeUV, yNameUV, 72, 5),
    yAxisCfg(2, yRangeA, yNamePct, 58, 5),
    yAxisCfg(3, yRangeD, yNamePct, 51, 2)
  ],
  series: [
    redSeries(0, aRed), blueSeries(0, aBlue),
    redSeries(1, bRed), blueSeries(1, bBlue),
    redSeries(2, cRed), blueSeries(2, cBlue),
    redSeries(3, dRed), blueSeries(3, dBlue)
  ],
  graphic: [
    caption(75, 341, '(a)', '2D tank temporal noise'),
    caption(527, 341, '(b)', '3D tank temporal noise'),
    word(22, 759, '(c)', false), word(71, 759, '2D', true), word(123, 759, 'tank', true),
    word(187, 759, 'proportional', true), word(333, 759, 'temporal', true),
    word(22, 791, 'noise', true),
    word(476, 759, '(d)', false), word(527, 759, '3D', true), word(579, 759, 'tank', true),
    word(643, 759, 'proportional', true), word(789, 759, 'temporal', true),
    word(476, 791, 'noise', true)
  ]
};
chart.setOption(option);
</script>
</body>
</html>
